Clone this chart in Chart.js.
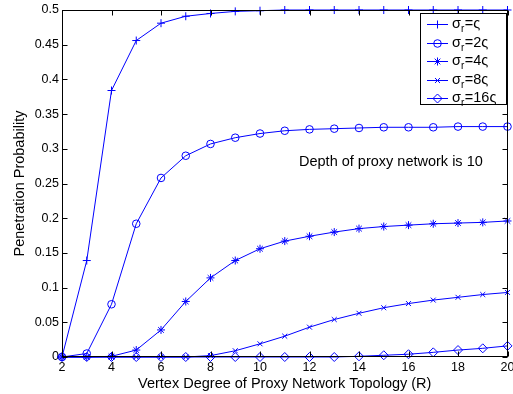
<!DOCTYPE html>
<html>
<head>
<meta charset="utf-8">
<script src="https://cdn.jsdelivr.net/npm/chart.js@4/dist/chart.umd.min.js"></script>
<style>
  html, body { margin: 0; padding: 0; background: #fff; }
  #wrap { width: 513px; height: 394px; position: relative; }
</style>
</head>
<body>
<div id="wrap"><canvas id="grafica"></canvas></div>
<script>
// vertex degree R
const degrees = [2, 3, 4, 5, 6, 7, 8, 9, 10, 11, 12, 13, 14, 15, 16, 17, 18, 19, 20];

const sigma1 = [0, 0.139, 0.384, 0.456, 0.481, 0.491, 0.495, 0.498, 0.499, 0.5, 0.5, 0.5, 0.5, 0.5, 0.5, 0.5, 0.5, 0.5, 0.5];
const sigma2 = [0, 0.005, 0.076, 0.192, 0.258, 0.290, 0.307, 0.316, 0.322, 0.326, 0.328, 0.329, 0.330, 0.331, 0.331, 0.331, 0.332, 0.332, 0.332];
const sigma4 = [0, 0, 0.001, 0.010, 0.039, 0.080, 0.114, 0.139, 0.156, 0.167, 0.174, 0.180, 0.185, 0.188, 0.190, 0.192, 0.193, 0.194, 0.196];
const sigma8 = [0, 0, 0, 0, 0, 0, 0.002, 0.009, 0.019, 0.030, 0.043, 0.054, 0.063, 0.071, 0.077, 0.082, 0.086, 0.090, 0.093];
const sigma16 = [0, 0, 0, 0, 0, 0, 0, 0, 0, 0, 0, 0, 0.001, 0.0025, 0.004, 0.0067, 0.010, 0.0125, 0.016];

const legendFactors = ["ς", "2ς", "4ς", "8ς", "16ς"];
const markers = ["cross", "circle", "star", "crossRot", "rectRot"];
const markerSizes = [4, 3.8, 4, 3.5, 4.5];

const xTicks = [2, 4, 6, 8, 10, 12, 14, 16, 18, 20];
const yTicks = [0, 0.05, 0.1, 0.15, 0.2, 0.25, 0.3, 0.35, 0.4, 0.45, 0.5];

const noteText = "Depth of proxy network is 10";

const BLUE = "rgb(0,0,255)";
const FONT = "'Liberation Sans', Arial, sans-serif";

const series = [sigma1, sigma2, sigma4, sigma8, sigma16];

const datasets = series.map((vals, i) => ({
    label: "σr=" + legendFactors[i],
    data: vals.map((v, j) => ({ x: degrees[j], y: v })),
    borderColor: BLUE,
    borderWidth: 1,
    backgroundColor: "transparent",
    pointStyle: markers[i],
    pointRadius: markerSizes[i],
    pointBorderColor: BLUE,
    pointBackgroundColor: "transparent",
    pointBorderWidth: 1,
    tension: 0,
    clip: false
}));

// frame, inward ticks, note and legend
const framePlugin = {
    id: "frame",
    afterDraw(c) {
        const ctx = c.ctx;
        const a = c.chartArea;
        const xs = c.scales.x, ys = c.scales.y;
        const L = Math.round(a.left) + 0.5, R = Math.round(a.right) - 0.5;
        const T = Math.round(a.top) + 0.5, B = Math.round(a.bottom) - 0.5;
        ctx.save();
        ctx.strokeStyle = "#000";
        ctx.lineWidth = 1;
        ctx.strokeRect(L, T, R - L, B - T);
        ctx.beginPath();
        xTicks.forEach(t => {
            const px = Math.round(xs.getPixelForValue(t)) + 0.5;
            ctx.moveTo(px, B); ctx.lineTo(px, B - 5);
            ctx.moveTo(px, T); ctx.lineTo(px, T + 5);
        });
        yTicks.forEach(t => {
            const py = Math.round(ys.getPixelForValue(t)) + 0.5;
            ctx.moveTo(L, py); ctx.lineTo(L + 5, py);
            ctx.moveTo(R, py); ctx.lineTo(R - 5, py);
        });
        ctx.stroke();

        // note
        ctx.fillStyle = "#000";
        ctx.font = "14.5px " + FONT;
        ctx.textBaseline = "middle";
        ctx.textAlign = "left";
        ctx.fillText(noteText, 299, 162);

        // legend box
        const bx = 420.5, by = 13.5, bw = 86, bh = 91;
        ctx.fillStyle = "#fff";
        ctx.fillRect(bx, by, bw, bh);
        ctx.strokeStyle = "#000";
        ctx.strokeRect(bx, by, bw, bh);

        legendFactors.forEach((f, i) => {
            const y = Math.round(24 + i * 18.5) + 0.5;
            ctx.strokeStyle = BLUE;
            ctx.fillStyle = "rgba(0,0,0,0)";
            ctx.lineWidth = 1;
            ctx.beginPath();
            ctx.moveTo(427, y); ctx.lineTo(448, y);
            ctx.stroke();
            Chart.helpers.drawPoint(ctx, {
                pointStyle: markers[i],
                radius: markerSizes[i],
                borderWidth: 1,
                rotation: 0
            }, 437.5, y);

            ctx.fillStyle = "#000";
            ctx.textBaseline = "middle";
            let tx = 452;
            ctx.font = "14.5px " + FONT;
            ctx.fillText("σ", tx, y - 1);
            tx += ctx.measureText("σ").width;
            ctx.font = "10px " + FONT;
            ctx.fillText("r", tx, y + 5);
            tx += ctx.measureText("r").width + 0.5;
            ctx.font = "14.5px " + FONT;
            ctx.fillText("=" + f, tx, y - 1);
        });
        ctx.restore();
    }
};

const chart = new Chart(document.getElementById("grafica"), {
    type: "line",
    data: { datasets: datasets },
    options: {
        responsive: true,
        maintainAspectRatio: false,
        animation: false,
        layout: { padding: { top: 10, right: 4, left: 0, bottom: 0 } },
        plugins: {
            legend: { display: false },
            tooltip: { enabled: false }
        },
        scales: {
            x: {
                type: "linear",
                min: 2,
                max: 20,
                grid: { display: false, drawTicks: false },
                border: { display: false },
                afterBuildTicks: s => { s.ticks = xTicks.map(v => ({ value: v })); },
                ticks: {
                    padding: 3,
                    color: "#000",
                    font: { family: FONT, size: 12.5 },
                    maxRotation: 0,
                    autoSkip: false,
                    callback: v => String(v)
                },
                title: {
                    display: true,
                    text: "Vertex Degree of Proxy Network Topology (R)",
                    color: "#000",
                    font: { family: FONT, size: 14.5 },
                    padding: { top: 0, bottom: 1 }
                },
                afterFit: s => { s.height = 37; s.paddingLeft = 0; s.paddingRight = 0; }
            },
            y: {
                min: 0,
                max: 0.5,
                grid: { display: false, drawTicks: false },
                border: { display: false },
                afterBuildTicks: s => { s.ticks = yTicks.map(v => ({ value: v })); },
                ticks: {
                    padding: 3,
                    color: "#000",
                    font: { family: FONT, size: 12.5 },
                    autoSkip: false,
                    callback: v => String(+v.toFixed(2))
                },
                title: {
                    display: true,
                    text: "Penetration Probability",
                    color: "#000",
                    font: { family: FONT, size: 14.5 },
                    padding: { top: 11, bottom: 0 }
                },
                afterFit: s => { s.width = 62; s.paddingTop = 0; s.paddingBottom = 0; }
            }
        }
    },
    plugins: [framePlugin]
});
</script>
</body>
</html>
